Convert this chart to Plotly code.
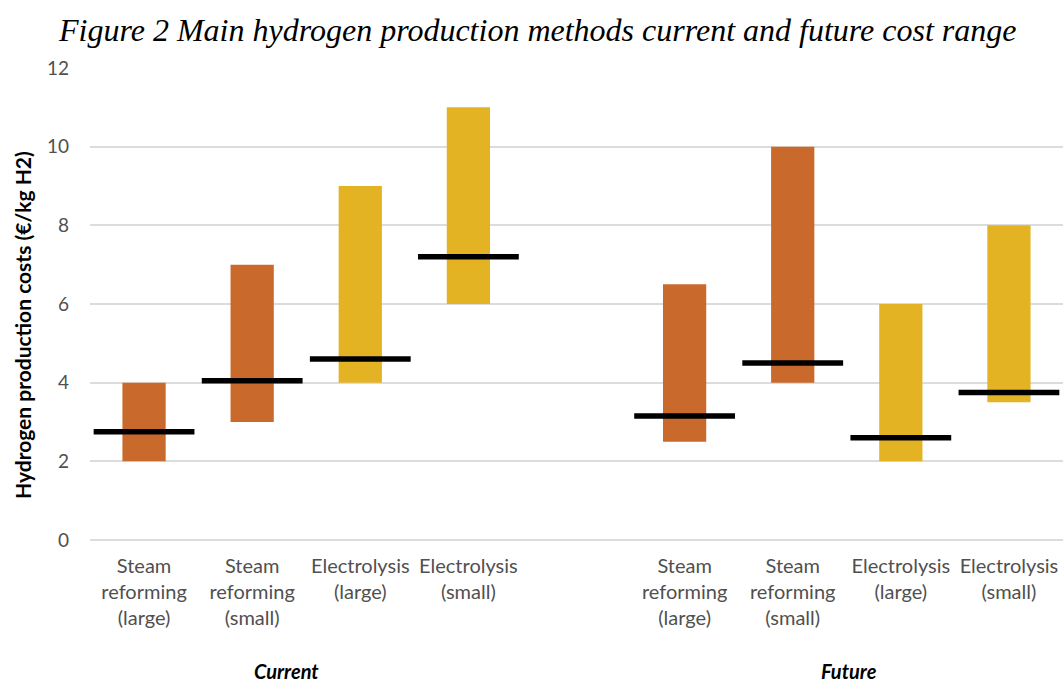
import plotly.graph_objects as go

# Cost ranges (EUR/kg H2) per production method, current and future
methods = ["Steam<br>reforming<br>(large)", "Steam<br>reforming<br>(small)",
           "Electrolysis<br>(large)", "Electrolysis<br>(small)"]
method_kind = ["steam", "steam", "electrolysis", "electrolysis"]
periods = ["Current", "Future"]

current_low = [2, 3, 4, 6]
current_high = [4, 7, 9, 11]
current_mid = [2.75, 4.05, 4.6, 7.2]

future_low = [2.5, 4, 2, 3.5]
future_high = [6.5, 10, 6, 8]
future_mid = [3.15, 4.5, 2.6, 3.75]

y_ticks = [0, 2, 4, 6, 8, 10, 12]

colors = {"steam": "#C96A2C", "electrolysis": "#E3B324"}
font_family = "Lato"
label_color = "#505050"
grid_color = "#DCDCDC"

# Slot positions: four methods per period, with one empty slot between periods
n = len(methods)
pos_current = list(range(n))
pos_future = [n + 1 + i for i in range(n)]
positions = pos_current + pos_future
lows = current_low + future_low
highs = current_high + future_high
mids = current_mid + future_mid
bar_colors = [colors[k] for k in method_kind] * 2

fig = go.Figure()
fig.add_trace(go.Bar(
    x=positions,
    y=[h - l for h, l in zip(highs, lows)],
    base=lows,
    width=0.4,
    marker=dict(color=bar_colors, line=dict(width=0)),
    hoverinfo="skip",
    showlegend=False,
))
fig.add_trace(go.Scatter(
    x=positions,
    y=mids,
    mode="markers",
    marker=dict(symbol="line-ew", size=72, line=dict(width=5.5, color="black")),
    hoverinfo="skip",
    showlegend=False,
))

fig.update_layout(
    width=1063, height=683,
    margin=dict(l=90, r=0, t=68, b=143),
    paper_bgcolor="white", plot_bgcolor="white",
    font=dict(family=font_family, size=20, color=label_color),
    xaxis=dict(
        range=[-0.5, 2 * n + 0.5],
        tickvals=positions,
        ticktext=methods * 2,
        showgrid=False, zeroline=False, showline=False,
        ticks="", tickfont=dict(size=20, color=label_color),
        ticklabelstandoff=12,
    ),
    yaxis=dict(
        range=[0, 12],
        tickvals=y_ticks,
        showgrid=True, gridcolor=grid_color, gridwidth=1.5,
        zeroline=True, zerolinecolor=grid_color, zerolinewidth=1.5,
        showline=False, ticks="",
        tickfont=dict(size=19, color=label_color),
        ticklabelstandoff=20,
    ),
    bargap=0.6,
)

# Figure caption
fig.add_annotation(
    text="<i>Figure 2 Main hydrogen production methods current and future cost range</i>",
    xref="paper", yref="paper", x=(537 - 90) / 973, y=1, yshift=38,
    xanchor="center", yanchor="middle", showarrow=False,
    font=dict(family="Liberation Serif", size=32, color="black"),
)

# Vertical axis title
fig.add_annotation(
    text="<b>Hydrogen production costs (€/kg H2)</b>",
    xref="paper", yref="paper", x=-68 / 973, y=(540 - 325) / 472,
    xanchor="center", yanchor="middle", textangle=-90, showarrow=False,
    font=dict(family=font_family, size=21, color="black"),
)

# Period labels beneath each group
period_x = [1.32, 6.52]
for label, px in zip(periods, period_x):
    fig.add_annotation(
        text=f"<b><i>{label}</i></b>",
        xref="x", yref="paper", x=px, y=0, yshift=-131,
        xanchor="center", yanchor="middle", showarrow=False, borderpad=0,
        font=dict(family=font_family, size=20, color="black"),
    )

fig.write_html("out.html")
